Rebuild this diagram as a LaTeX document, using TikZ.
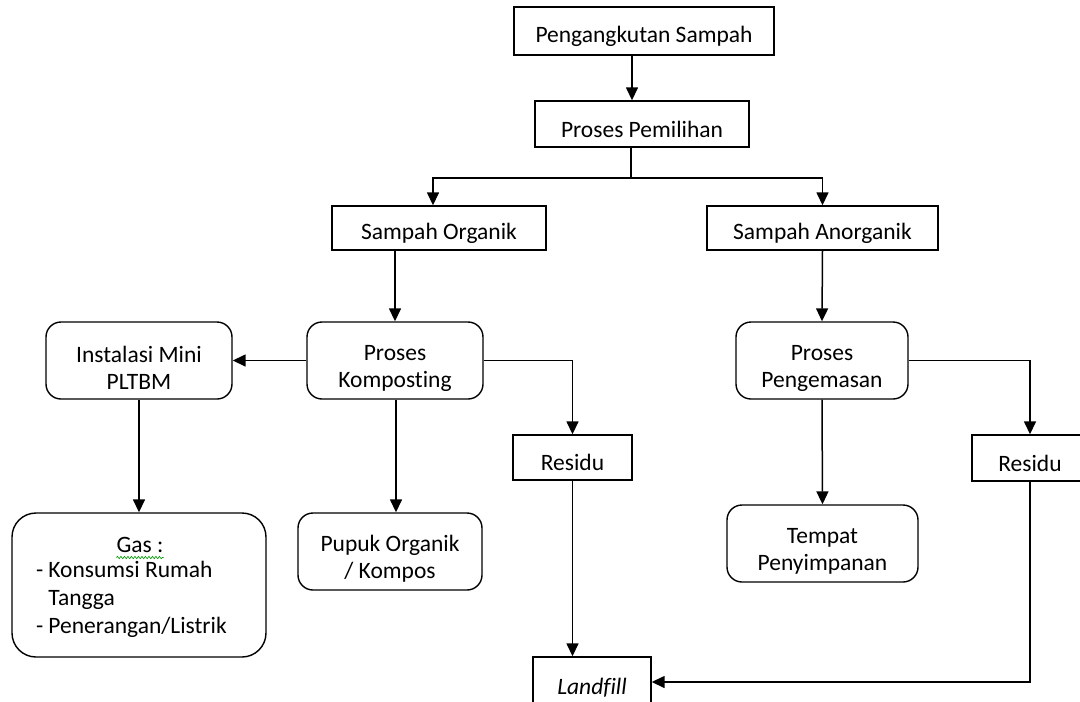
\documentclass[tikz,border=0pt]{standalone}
\usepackage{fontspec}
\setmainfont{Carlito}[Ligatures=NoCommon]
\usepackage{tikz}
\usetikzlibrary{positioning,arrows.meta,decorations.pathmorphing}
\newcommand{\topgap}{\rule{0pt}{31pt}}

\begin{document}
\begin{tikzpicture}[x=1pt, y=-1pt,
    >={Triangle[length=13pt,width=12pt]},
    % Box styles
    plain/.style={draw, line width=1.4pt, fill=white, align=center, inner sep=2pt,
                  font=\fontsize{23.5}{27}\selectfont,
                  execute at begin node={\rule{0pt}{27pt}}},
    soft/.style={plain, rounded corners=15pt},
    txt/.style={font=\fontsize{23.5}{28}\selectfont, inner sep=0pt},
    arrow/.style={->, line width=1.5pt},
    line/.style={line width=1.5pt},
  ]
  \useasboundingbox (0,0) rectangle (1080,702);

  % ===== TOP: transport and sorting =====
  \node[plain, minimum width=260pt, minimum height=48pt] (angkut) at (644,31) {Pengangkutan Sampah};
  \node[plain, minimum width=214pt, minimum height=46pt] (pilih) at (642,124) {Proses Pemilihan};
  \draw[arrow] ([xshift=-12pt]angkut.south) -- ([xshift=-12pt]angkut.south |- pilih.north);

  % ===== Split organic / anorganic =====
  \node[plain, minimum width=214pt, minimum height=44pt] (organik) at (439,228) {Sampah Organik};
  \node[plain, minimum width=231pt, minimum height=44pt] (anorganik) at (822.5,228) {Sampah Anorganik};
  \coordinate (split) at (631,178);
  \draw[line] (pilih.south -| split) -- (split);
  \draw[arrow] (split) -| ([xshift=-6pt]organik.north);
  \draw[arrow] (split) -| (anorganik.north);

  % ===== LEFT: composting branch =====
  \node[soft, minimum width=176pt, minimum height=77pt] (kompos) at (395,360.5) {\topgap Proses\\Komposting};
  \node[soft, minimum width=186pt, minimum height=77pt] (instalasi) at (139,360.5) {\topgap Instalasi Mini\\PLTBM};
  \node[soft, rounded corners=24pt, minimum width=254pt, minimum height=144pt] (gas) at (139,585) {};
  \node[txt] (gastitle) at (140,545) {Gas :};
  \node[txt, align=left, anchor=north west] (gaslist) at (36,561)
    {-\hspace{5pt}Konsumsi Rumah\\\phantom{-}\hspace{5pt}Tangga\\-\hspace{5pt}Penerangan/Listrik};
  \draw[green!60!black, line width=0.6pt, decorate,
        decoration={snake, amplitude=1.2pt, segment length=3.5pt}]
    ([yshift=-5pt]gastitle.base west) -- ([yshift=-5pt]gastitle.base east);
  \node[soft, minimum width=184pt, minimum height=77pt] (pupuk) at (390,551.5) {\topgap Pupuk Organik\\/ Kompos};
  \node[plain, minimum width=119pt, minimum height=45pt] (residuA) at (572.5,457.5) {Residu};
  \node[plain, minimum width=118pt, minimum height=50pt, font=\fontsize{23.5}{27}\selectfont\itshape]
    (landfill) at (592,682) {Landfill};

  \draw[arrow] (organik.south -| kompos.north) -- (kompos.north);
  \draw[arrow] (kompos.west) -- (instalasi.east);
  \draw[arrow] (instalasi.south) -- (gas.north);
  \draw[arrow] ([xshift=1pt]kompos.south) -- ([xshift=1pt]kompos.south |- pupuk.north);
  \draw[arrow] (kompos.east) -| (residuA.north);
  \draw[arrow] (residuA.south) -- (residuA.south |- landfill.north);

  % ===== RIGHT: packaging branch =====
  \node[soft, minimum width=172pt, minimum height=77pt] (kemas) at (822,360.5) {\topgap Proses\\Pengemasan};
  \node[soft, minimum width=191pt, minimum height=77pt] (simpan) at (822.5,543.5) {\topgap Tempat\\Penyimpanan};
  \node[plain, minimum width=116pt, minimum height=46pt] (residuB) at (1030,458) {Residu};

  \draw[arrow] (anorganik.south) -- (kemas.north);
  \draw[arrow] (kemas.south) -- (simpan.north);
  \draw[arrow] (kemas.east) -| (residuB.north);
  \draw[arrow] (residuB.south) |- (landfill.east);

\end{tikzpicture}
\end{document}
